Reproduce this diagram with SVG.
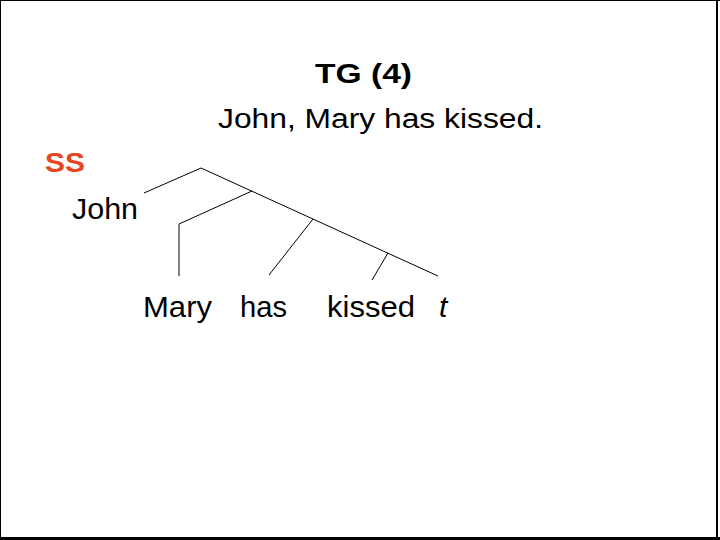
<svg xmlns="http://www.w3.org/2000/svg" width="720" height="540" viewBox="0 0 720 540">
<style>
text{font-family:"Liberation Sans",Arial,sans-serif;fill:#000}
.b{font-weight:bold}
.ss{fill:#E8441F}
.e{stroke:#000;stroke-width:1;fill:none}
</style>
<rect x="0" y="0" width="720" height="540" fill="#fff"/>
<g id="frame">
<line x1="0.5" y1="0" x2="0.5" y2="540" stroke="#000" stroke-width="1"/>
<line x1="0" y1="0.5" x2="720" y2="0.5" stroke="#000" stroke-width="1"/>
<line x1="717" y1="0" x2="717" y2="540" stroke="#000" stroke-width="2"/>
<line x1="0" y1="538.5" x2="720" y2="538.5" stroke="#000" stroke-width="3"/>
</g>
<g id="title"><text class="b" x="315" y="83" font-size="28" textLength="97" lengthAdjust="spacingAndGlyphs">TG (4)</text></g>
<g id="sentence"><text x="218" y="128" font-size="27" textLength="325" lengthAdjust="spacingAndGlyphs">John, Mary has kissed.</text></g>
<g id="ss"><text class="b ss" x="45" y="172" font-size="27" textLength="40" lengthAdjust="spacingAndGlyphs">SS</text></g>
<g id="connectors">
<polyline class="e" points="144,193 201,168 438,276"/>
<polyline class="e" points="252,191 179,224 179,276"/>
<line class="e" x1="313" y1="219" x2="269" y2="275"/>
<line class="e" x1="388" y1="253" x2="372" y2="280"/>
</g>
<g id="john"><text x="72" y="219" font-size="29" textLength="66" lengthAdjust="spacingAndGlyphs">John</text></g>
<g id="mary"><text x="143" y="317" font-size="30" textLength="69" lengthAdjust="spacingAndGlyphs">Mary</text></g>
<g id="has"><text x="240" y="317" font-size="30" textLength="47" lengthAdjust="spacingAndGlyphs">has</text></g>
<g id="kissed"><text x="327" y="317" font-size="30" textLength="88" lengthAdjust="spacingAndGlyphs">kissed</text></g>
<g id="trace"><text x="439" y="317" font-size="30" font-style="italic">t</text></g>
</svg>
